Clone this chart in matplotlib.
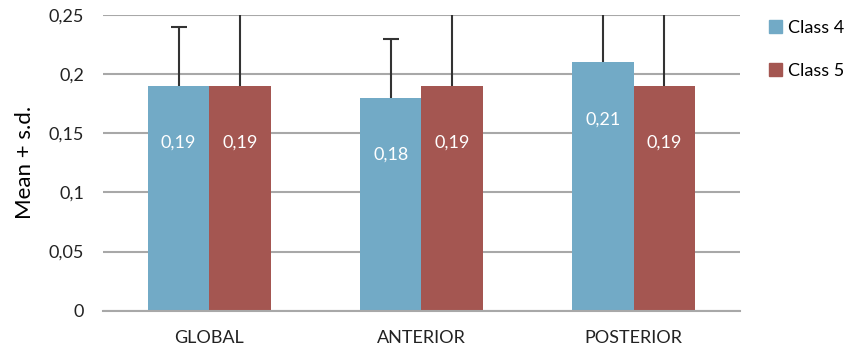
import numpy as np
import matplotlib.pyplot as plt
from matplotlib.patches import Patch

# данные
categories = ['GLOBAL', 'ANTERIOR', 'POSTERIOR']
class4 = [0.19, 0.18, 0.21]
class5 = [0.19, 0.19, 0.19]
sd4 = [0.05, 0.05, 0.06]
sd5 = [0.07, 0.07, 0.07]
yticks = [0, 0.05, 0.1, 0.15, 0.2, 0.25]
ytick_labels = ['0', '0,05', '0,1', '0,15', '0,2', '0,25']

plt.rcParams['font.family'] = ['Lato', 'DejaVu Sans']

c4 = '#72AAC6'
c5 = '#A45651'

fig = plt.figure(figsize=(8.54, 3.51), dpi=100)
ax = fig.add_axes([0.121, 0.115, 0.745, 0.842])

x = np.arange(len(categories))
w = 0.29

for xs, vals, sds, col in [(x - w / 2, class4, sd4, c4), (x + w / 2, class5, sd5, c5)]:
    ax.bar(xs, vals, w, color=col, zorder=2)
    tops = np.array(vals) + np.array(sds)
    # только верхняя половина "усов"
    ax.vlines(xs, vals, tops, color='#333333', linewidth=1.5, zorder=3)
    ax.scatter(xs, tops, marker='_', s=120, color='#333333', linewidths=1.5, zorder=3)
    for xi, v in zip(xs, vals):
        ax.annotate(('%.2f' % v).replace('.', ','), (xi, v), xytext=(0, -41),
                    textcoords='offset points', ha='center', va='center',
                    color='white', fontsize=13, zorder=4)

ax.set_xlim(-0.5, 2.5)
ax.set_ylim(0, 0.25)
ax.set_yticks(yticks)
ax.set_yticklabels(ytick_labels)
ax.set_xticks(x)
ax.set_xticklabels(categories)
ax.tick_params(axis='both', length=0, labelsize=13, colors='#222222')
ax.tick_params(axis='y', pad=14)
ax.tick_params(axis='x', pad=14)
ax.yaxis.grid(True, color='#A8A8A8', linewidth=1.5, zorder=0)
ax.set_axisbelow(True)
for s in ['left', 'right', 'top']:
    ax.spines[s].set_visible(False)
ax.spines['bottom'].set_color('#A8A8A8')
ax.spines['bottom'].set_linewidth(1.5)
ax.set_ylabel('Mean + s.d.', fontsize=16, labelpad=10)

handles = [Patch(color=c4, label='Class 4'), Patch(color=c5, label='Class 5')]
fig.legend(handles=handles, loc='upper left', bbox_to_anchor=(0.9, 0.944),
           frameon=False, fontsize=13, handlelength=0.75, handleheight=0.75,
           handletextpad=0.35, labelspacing=1.5, borderpad=0, borderaxespad=0)

fig.savefig('out.png', dpi=100)
